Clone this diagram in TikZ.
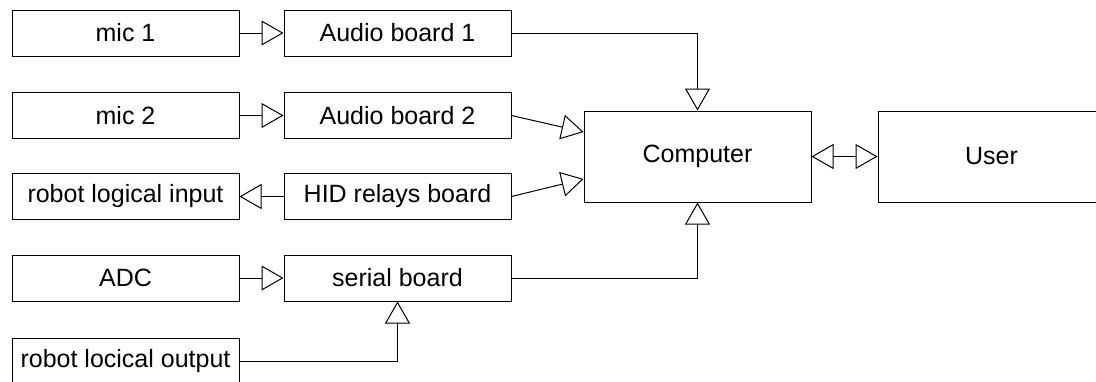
\documentclass[tikz,border=0pt]{standalone}
\usepackage{fontspec}
\setmainfont{Liberation Sans}
\usetikzlibrary{arrows.meta,calc}

\tikzset{
  block/.style={draw=black, line width=1pt, minimum width=227pt, minimum height=46pt,
                inner sep=0pt, font=\fontsize{25}{30}\selectfont},
  bigblock/.style={block, minimum height=91pt},
  flow/.style={draw=black, line width=1pt,
               -{Triangle[open, length=22pt, width=25pt, line width=1pt]}},
  flowboth/.style={draw=black, line width=1pt,
               {Triangle[open, length=22pt, width=25pt, line width=1pt]}-{Triangle[open, length=22pt, width=25pt, line width=1pt]}}
}

\begin{document}
\begin{tikzpicture}[x=1pt, y=-1pt]
  \useasboundingbox (0,0) rectangle (1096,381);
  \clip (0,0) rectangle (1096,381);
  \fill[white] (0,0) rectangle (1096,381);

  % input column
  \node[block] (mic1) at (125.5,33)  {mic 1};
  \node[block] (mic2) at (125.5,115.5) {mic 2};
  \node[block] (rli)  at (125.5,196.5) {robot logical input};
  \node[block] (adc)  at (125.5,278) {ADC};
  \node[block] (rlo)  at (125.5,361) {robot locical output};

  % interface boards
  \node[block] (ab1) at (397.5,33)  {Audio board 1};
  \node[block] (ab2) at (397.5,115.5) {Audio board 2};
  \node[block] (hid) at (397.5,196.5) {HID relays board};
  \node[block] (ser) at (397.5,278) {serial board};

  % main units
  \node[bigblock] (comp) at (697.5,156.5) {Computer};
  \node[bigblock] (user) at (991.5,156.5) {User};

  % entry points on the computer's left side
  \coordinate (cin1) at ($(comp.west)+(0,-24.5)$);
  \coordinate (cin2) at ($(comp.west)+(0,22.5)$);

  % connections
  \draw[flow] (mic1) -- (ab1);
  \draw[flow] (mic2) -- (ab2);
  \draw[flow] (hid) -- (rli);
  \draw[flow] (adc) -- (ser);
  \draw[flow] (rlo.east) -| (ser.south);

  \draw[flow] (ab1.east) -| (comp.north);
  \draw[flow] (ab2.east) -- (cin1);
  \draw[flow] (hid.east) -- (cin2);
  \draw[flow] (ser.east) -| (comp.south);

  \draw[flowboth] (comp.east) -- (user.west);
\end{tikzpicture}
\end{document}
